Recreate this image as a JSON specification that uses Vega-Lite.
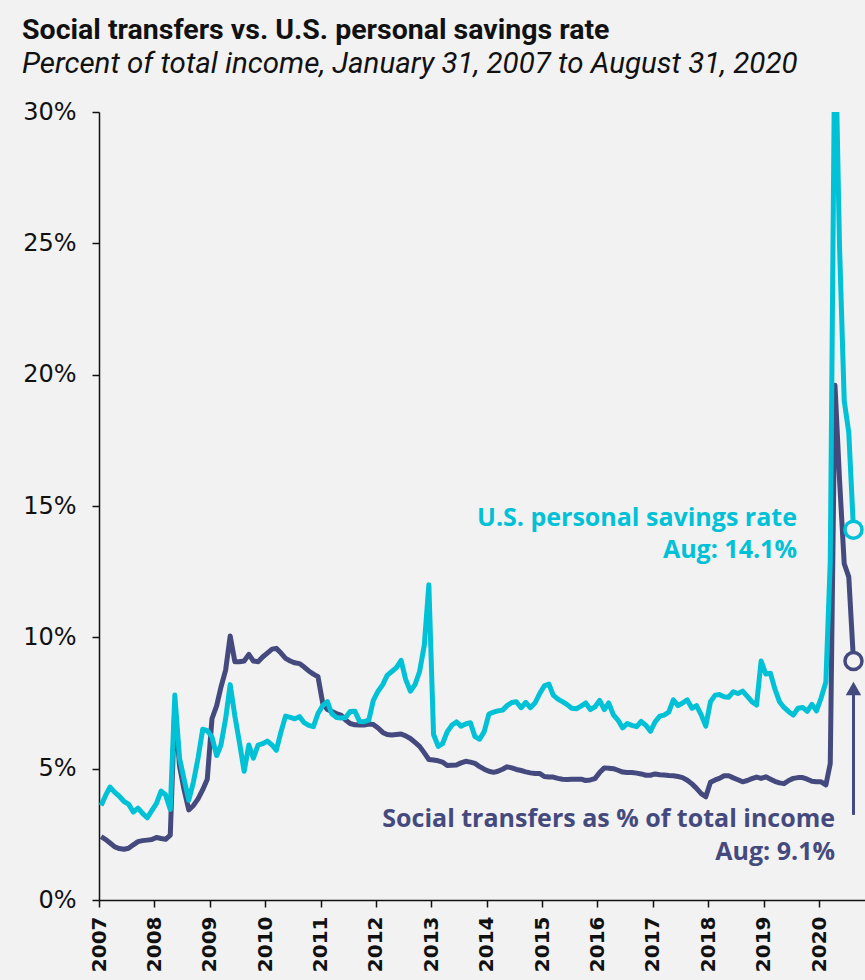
{
  "$schema": "https://vega.github.io/schema/vega-lite/v6.json",
  "width": 766,
  "height": 788,
  "autosize": {"type": "none"},
  "padding": {"left": 99, "top": 112, "right": 0, "bottom": 80},
  "background": "#f2f2f2",
  "config": {"view": {"stroke": null}},
  "title": {
    "text": "Social transfers vs. U.S. personal savings rate",
    "subtitle": "Percent of total income, January 31, 2007 to August 31, 2020",
    "anchor": "start",
    "frame": "group",
    "dx": -77,
    "font": "Roboto",
    "fontSize": 28.5,
    "fontWeight": "bold",
    "color": "#111111",
    "subtitleFont": "Roboto",
    "subtitleFontSize": 29.5,
    "subtitleFontStyle": "italic",
    "subtitleColor": "#111111",
    "subtitlePadding": 5,
    "offset": 22
  },
  "datasets": {
    "main": [
      {"date":"2007-01-15","transfers":2.41,"savings":3.6},
      {"date":"2007-02-15","transfers":2.3,"savings":4.0},
      {"date":"2007-03-15","transfers":2.17,"savings":4.3},
      {"date":"2007-04-15","transfers":2.02,"savings":4.1},
      {"date":"2007-05-15","transfers":1.96,"savings":3.95},
      {"date":"2007-06-15","transfers":1.93,"savings":3.75},
      {"date":"2007-07-15","transfers":1.97,"savings":3.65},
      {"date":"2007-08-15","transfers":2.1,"savings":3.35},
      {"date":"2007-09-15","transfers":2.22,"savings":3.5},
      {"date":"2007-10-15","transfers":2.26,"savings":3.3},
      {"date":"2007-11-15","transfers":2.28,"savings":3.13},
      {"date":"2007-12-15","transfers":2.3,"savings":3.4},
      {"date":"2008-01-15","transfers":2.38,"savings":3.68},
      {"date":"2008-02-15","transfers":2.34,"savings":4.15},
      {"date":"2008-03-15","transfers":2.31,"savings":4.0},
      {"date":"2008-04-15","transfers":2.47,"savings":3.45},
      {"date":"2008-05-15","transfers":7.4,"savings":7.8},
      {"date":"2008-06-15","transfers":5.1,"savings":5.4},
      {"date":"2008-07-15","transfers":4.2,"savings":4.6},
      {"date":"2008-08-15","transfers":3.43,"savings":3.8},
      {"date":"2008-09-15","transfers":3.6,"savings":4.5},
      {"date":"2008-10-15","transfers":3.85,"savings":5.4},
      {"date":"2008-11-15","transfers":4.2,"savings":6.5},
      {"date":"2008-12-15","transfers":4.6,"savings":6.45},
      {"date":"2009-01-15","transfers":6.9,"savings":6.2},
      {"date":"2009-02-15","transfers":7.4,"savings":5.5},
      {"date":"2009-03-15","transfers":8.1,"savings":5.9},
      {"date":"2009-04-15","transfers":8.75,"savings":6.9},
      {"date":"2009-05-15","transfers":10.05,"savings":8.2},
      {"date":"2009-06-15","transfers":9.07,"savings":7.0},
      {"date":"2009-07-15","transfers":9.07,"savings":6.0},
      {"date":"2009-08-15","transfers":9.1,"savings":4.9},
      {"date":"2009-09-15","transfers":9.35,"savings":5.9},
      {"date":"2009-10-15","transfers":9.1,"savings":5.4},
      {"date":"2009-11-15","transfers":9.07,"savings":5.9},
      {"date":"2009-12-15","transfers":9.25,"savings":5.95},
      {"date":"2010-01-15","transfers":9.4,"savings":6.05},
      {"date":"2010-02-15","transfers":9.55,"savings":5.9},
      {"date":"2010-03-15","transfers":9.58,"savings":5.7},
      {"date":"2010-04-15","transfers":9.4,"savings":6.4},
      {"date":"2010-05-15","transfers":9.2,"savings":7.0},
      {"date":"2010-06-15","transfers":9.1,"savings":6.95},
      {"date":"2010-07-15","transfers":9.03,"savings":6.9},
      {"date":"2010-08-15","transfers":9.0,"savings":6.98},
      {"date":"2010-09-15","transfers":8.87,"savings":6.75},
      {"date":"2010-10-15","transfers":8.72,"savings":6.65},
      {"date":"2010-11-15","transfers":8.6,"savings":6.6},
      {"date":"2010-12-15","transfers":8.5,"savings":7.1},
      {"date":"2011-01-15","transfers":7.5,"savings":7.4},
      {"date":"2011-02-15","transfers":7.25,"savings":7.55},
      {"date":"2011-03-15","transfers":7.18,"savings":7.1},
      {"date":"2011-04-15","transfers":7.1,"savings":6.95},
      {"date":"2011-05-15","transfers":7.04,"savings":6.93},
      {"date":"2011-06-15","transfers":6.85,"savings":6.95},
      {"date":"2011-07-15","transfers":6.72,"savings":7.18},
      {"date":"2011-08-15","transfers":6.67,"savings":7.19},
      {"date":"2011-09-15","transfers":6.66,"savings":6.8},
      {"date":"2011-10-15","transfers":6.66,"savings":6.79},
      {"date":"2011-11-15","transfers":6.7,"savings":6.85},
      {"date":"2011-12-15","transfers":6.68,"savings":7.6},
      {"date":"2012-01-15","transfers":6.55,"savings":7.95},
      {"date":"2012-02-15","transfers":6.38,"savings":8.2},
      {"date":"2012-03-15","transfers":6.3,"savings":8.55},
      {"date":"2012-04-15","transfers":6.28,"savings":8.7},
      {"date":"2012-05-15","transfers":6.3,"savings":8.85},
      {"date":"2012-06-15","transfers":6.32,"savings":9.12},
      {"date":"2012-07-15","transfers":6.25,"savings":8.4},
      {"date":"2012-08-15","transfers":6.15,"savings":7.95},
      {"date":"2012-09-15","transfers":6.0,"savings":8.2},
      {"date":"2012-10-15","transfers":5.85,"savings":8.7},
      {"date":"2012-11-15","transfers":5.6,"savings":9.7},
      {"date":"2012-12-15","transfers":5.35,"savings":12.0},
      {"date":"2013-01-15","transfers":5.33,"savings":6.3},
      {"date":"2013-02-15","transfers":5.3,"savings":5.85},
      {"date":"2013-03-15","transfers":5.25,"savings":5.95},
      {"date":"2013-04-15","transfers":5.12,"savings":6.4},
      {"date":"2013-05-15","transfers":5.13,"savings":6.65},
      {"date":"2013-06-15","transfers":5.14,"savings":6.78},
      {"date":"2013-07-15","transfers":5.22,"savings":6.62},
      {"date":"2013-08-15","transfers":5.28,"savings":6.7},
      {"date":"2013-09-15","transfers":5.25,"savings":6.75},
      {"date":"2013-10-15","transfers":5.2,"savings":6.22},
      {"date":"2013-11-15","transfers":5.08,"savings":6.12},
      {"date":"2013-12-15","transfers":4.98,"savings":6.41},
      {"date":"2014-01-15","transfers":4.9,"savings":7.08},
      {"date":"2014-02-15","transfers":4.86,"savings":7.15},
      {"date":"2014-03-15","transfers":4.9,"savings":7.2},
      {"date":"2014-04-15","transfers":4.98,"savings":7.23},
      {"date":"2014-05-15","transfers":5.07,"savings":7.4},
      {"date":"2014-06-15","transfers":5.03,"savings":7.52},
      {"date":"2014-07-15","transfers":4.97,"savings":7.55},
      {"date":"2014-08-15","transfers":4.93,"savings":7.32},
      {"date":"2014-09-15","transfers":4.88,"savings":7.52},
      {"date":"2014-10-15","transfers":4.84,"savings":7.32},
      {"date":"2014-11-15","transfers":4.82,"savings":7.5},
      {"date":"2014-12-15","transfers":4.82,"savings":7.85},
      {"date":"2015-01-15","transfers":4.7,"savings":8.15},
      {"date":"2015-02-15","transfers":4.68,"savings":8.22},
      {"date":"2015-03-15","transfers":4.68,"savings":7.8},
      {"date":"2015-04-15","transfers":4.63,"savings":7.65},
      {"date":"2015-05-15","transfers":4.6,"savings":7.55},
      {"date":"2015-06-15","transfers":4.59,"savings":7.44},
      {"date":"2015-07-15","transfers":4.6,"savings":7.3},
      {"date":"2015-08-15","transfers":4.6,"savings":7.28},
      {"date":"2015-09-15","transfers":4.6,"savings":7.38},
      {"date":"2015-10-15","transfers":4.55,"savings":7.5},
      {"date":"2015-11-15","transfers":4.57,"savings":7.25},
      {"date":"2015-12-15","transfers":4.62,"savings":7.35},
      {"date":"2016-01-15","transfers":4.85,"savings":7.6},
      {"date":"2016-02-15","transfers":5.03,"savings":7.25},
      {"date":"2016-03-15","transfers":5.02,"savings":7.5},
      {"date":"2016-04-15","transfers":5.0,"savings":7.05},
      {"date":"2016-05-15","transfers":4.94,"savings":6.85},
      {"date":"2016-06-15","transfers":4.87,"savings":6.55},
      {"date":"2016-07-15","transfers":4.85,"savings":6.72},
      {"date":"2016-08-15","transfers":4.85,"savings":6.65},
      {"date":"2016-09-15","transfers":4.83,"savings":6.6},
      {"date":"2016-10-15","transfers":4.8,"savings":6.8},
      {"date":"2016-11-15","transfers":4.75,"savings":6.65},
      {"date":"2016-12-15","transfers":4.75,"savings":6.42},
      {"date":"2017-01-15","transfers":4.8,"savings":6.78},
      {"date":"2017-02-15","transfers":4.77,"savings":7.0},
      {"date":"2017-03-15","transfers":4.76,"savings":7.04},
      {"date":"2017-04-15","transfers":4.74,"savings":7.15},
      {"date":"2017-05-15","transfers":4.73,"savings":7.62},
      {"date":"2017-06-15","transfers":4.7,"savings":7.4},
      {"date":"2017-07-15","transfers":4.66,"savings":7.5},
      {"date":"2017-08-15","transfers":4.56,"savings":7.62},
      {"date":"2017-09-15","transfers":4.42,"savings":7.3},
      {"date":"2017-10-15","transfers":4.25,"savings":7.4},
      {"date":"2017-11-15","transfers":4.05,"savings":7.05},
      {"date":"2017-12-15","transfers":3.93,"savings":6.62},
      {"date":"2018-01-15","transfers":4.48,"savings":7.55},
      {"date":"2018-02-15","transfers":4.57,"savings":7.8},
      {"date":"2018-03-15","transfers":4.63,"savings":7.82},
      {"date":"2018-04-15","transfers":4.73,"savings":7.74},
      {"date":"2018-05-15","transfers":4.73,"savings":7.72},
      {"date":"2018-06-15","transfers":4.65,"savings":7.93},
      {"date":"2018-07-15","transfers":4.58,"savings":7.86},
      {"date":"2018-08-15","transfers":4.5,"savings":7.95},
      {"date":"2018-09-15","transfers":4.55,"savings":7.75},
      {"date":"2018-10-15","transfers":4.62,"savings":7.55},
      {"date":"2018-11-15","transfers":4.68,"savings":7.42},
      {"date":"2018-12-15","transfers":4.63,"savings":9.1},
      {"date":"2019-01-15","transfers":4.69,"savings":8.6},
      {"date":"2019-02-15","transfers":4.6,"savings":8.63},
      {"date":"2019-03-15","transfers":4.52,"savings":8.05},
      {"date":"2019-04-15","transfers":4.46,"savings":7.55},
      {"date":"2019-05-15","transfers":4.43,"savings":7.33},
      {"date":"2019-06-15","transfers":4.55,"savings":7.17},
      {"date":"2019-07-15","transfers":4.63,"savings":7.04},
      {"date":"2019-08-15","transfers":4.66,"savings":7.3},
      {"date":"2019-09-15","transfers":4.66,"savings":7.33},
      {"date":"2019-10-15","transfers":4.6,"savings":7.18},
      {"date":"2019-11-15","transfers":4.52,"savings":7.45},
      {"date":"2019-12-15","transfers":4.5,"savings":7.2},
      {"date":"2020-01-15","transfers":4.5,"savings":7.7},
      {"date":"2020-02-15","transfers":4.38,"savings":8.3},
      {"date":"2020-03-15","transfers":5.2,"savings":12.9},
      {"date":"2020-04-15","transfers":19.6,"savings":33.7},
      {"date":"2020-05-15","transfers":16.0,"savings":24.9},
      {"date":"2020-06-15","transfers":12.8,"savings":19.0},
      {"date":"2020-07-15","transfers":12.3,"savings":17.8},
      {"date":"2020-08-15","transfers":9.1,"savings":14.1}
    ],
    "notes": [
      {"date":"2019-08-08","value":14.55,"label":"U.S. personal savings rate","series":"savings"},
      {"date":"2019-08-08","value":13.33,"label":"Aug: 14.1%","series":"savings"},
      {"date":"2020-04-15","value":3.07,"label":"Social transfers as % of total income","series":"transfers"},
      {"date":"2020-04-15","value":1.83,"label":"Aug: 9.1%","series":"transfers"}
    ],
    "arrow": [
      {"date":"2020-08-15","low":3.24,"high":7.85,"tip":8.05}
    ]
  },
  "encoding": {
    "x": {
      "field": "date",
      "type": "temporal",
      "title": null,
      "scale": {"type": "utc", "domain": [{"year": 2007, "month": 1, "date": 1, "utc": true}, {"year": 2020, "month": 10, "date": 30, "utc": true}]},
      "axis": {
        "format": "%Y",
        "tickCount": {"interval": "year", "step": 1},
        "grid": false,
        "domainColor": "#111111",
        "domainWidth": 1.5,
        "tickColor": "#111111",
        "tickWidth": 1.5,
        "tickSize": 7,
        "labelAngle": 270,
        "labelAlign": "right",
        "labelBaseline": "middle",
        "labelFont": "DejaVu Sans",
        "labelFontWeight": "bold",
        "labelFontSize": 20,
        "labelColor": "#111111",
        "labelPadding": 9,
        "labelOverlap": false,
        "labelFlush": false
      }
    }
  },
  "layer": [
    {
      "data": {"name": "main"},
      "mark": {"type": "line", "color": "#454a7e", "strokeWidth": 5, "clip": true, "strokeJoin": "round"},
      "encoding": {
        "y": {
          "field": "transfers",
          "type": "quantitative",
          "title": null,
          "scale": {"domain": [0, 30], "nice": false},
          "axis": {
            "values": [0, 5, 10, 15, 20, 25, 30],
            "labelExpr": "datum.value + '%'",
            "grid": false,
            "domainColor": "#111111",
            "domainWidth": 1.5,
            "tickColor": "#111111",
            "tickWidth": 1.5,
            "tickSize": 7,
            "labelFont": "DejaVu Sans",
            "labelFontSize": 24,
            "labelColor": "#111111",
            "labelPadding": 16
          }
        }
      }
    },
    {
      "data": {"name": "main"},
      "mark": {"type": "line", "color": "#00c1d6", "strokeWidth": 5, "clip": true, "strokeJoin": "round"},
      "encoding": {
        "y": {"field": "savings", "type": "quantitative", "title": null}
      }
    },
    {
      "data": {"name": "arrow"},
      "mark": {"type": "rule", "color": "#454a7e", "strokeWidth": 3},
      "encoding": {
        "y": {"field": "low", "type": "quantitative", "title": null},
        "y2": {"field": "high"}
      }
    },
    {
      "data": {"name": "arrow"},
      "mark": {"type": "point", "shape": "triangle-up", "filled": true, "color": "#454a7e", "size": 240, "opacity": 1},
      "encoding": {
        "y": {"field": "tip", "type": "quantitative", "title": null}
      }
    },
    {
      "data": {"name": "main"},
      "transform": [{"filter": "utcyear(datum.date) == 2020 && utcmonth(datum.date) == 7"}],
      "mark": {"type": "point", "shape": "circle", "filled": true, "fill": "#f2f2f2", "stroke": "#00c1d6", "strokeWidth": 3.5, "size": 290, "opacity": 1},
      "encoding": {
        "y": {"field": "savings", "type": "quantitative", "title": null}
      }
    },
    {
      "data": {"name": "main"},
      "transform": [{"filter": "utcyear(datum.date) == 2020 && utcmonth(datum.date) == 7"}],
      "mark": {"type": "point", "shape": "circle", "filled": true, "fill": "#f2f2f2", "stroke": "#454a7e", "strokeWidth": 3.5, "size": 290, "opacity": 1},
      "encoding": {
        "y": {"field": "transfers", "type": "quantitative", "title": null}
      }
    },
    {
      "data": {"name": "notes"},
      "mark": {"type": "text", "align": "right", "baseline": "middle", "font": "Open Sans", "fontSize": 25, "fontWeight": "bold"},
      "encoding": {
        "y": {"field": "value", "type": "quantitative", "title": null},
        "text": {"field": "label"},
        "color": {"field": "series", "type": "nominal", "legend": null, "scale": {"domain": ["savings", "transfers"], "range": ["#00c1d6", "#454a7e"]}}
      }
    }
  ]
}
